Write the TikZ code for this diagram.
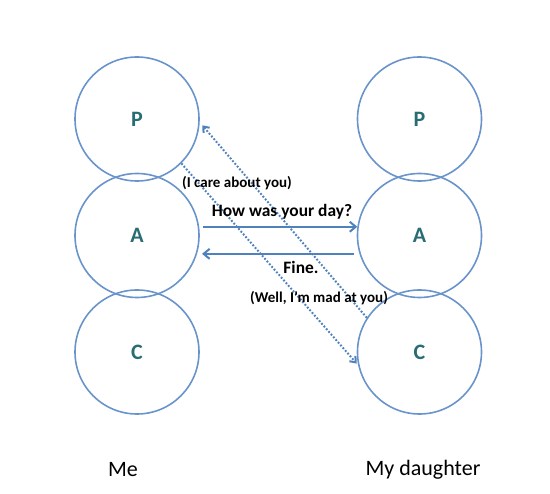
\documentclass[tikz,border=0pt]{standalone}
\usepackage{fontspec}
\setmainfont{Carlito}
\usetikzlibrary{arrows.meta}
\definecolor{circblue}{RGB}{104,148,203}
\definecolor{arrblue}{RGB}{79,129,189}
\definecolor{letterteal}{RGB}{40,108,116}
\tikzset{
  egostate/.style={circle,draw=circblue,line width=1.6pt,minimum size=124pt,inner sep=0pt,
    font=\fontsize{22}{24}\selectfont\bfseries,text=letterteal},
  msgarrow/.style={draw=arrblue,line width=2.4pt,-{Straight Barb[length=6pt,width=10pt,line width=2pt]}},
  hiddenarrow/.style={draw=arrblue,line width=2pt,dash pattern=on 1.8pt off 1.8pt,
    -{Straight Barb[length=5pt,width=8pt,line width=2pt]}},
  msgtext/.style={font=\fontsize{17.4}{19}\selectfont\bfseries,inner sep=0pt},
  subtext/.style={font=\fontsize{15}{17}\selectfont\bfseries,inner sep=0pt},
  persontext/.style={font=\fontsize{22}{24}\selectfont,inner sep=0pt}
}
\begin{document}
\begin{tikzpicture}[x=1pt,y=-1pt]
\useasboundingbox (0,0) rectangle (550,494);
\node[egostate] (lP) at (137,119) {P};
\node[egostate] (lA) at (137,235.5) {A};
\node[egostate] (lC) at (137,352) {C};
\node[egostate] (rP) at (419.5,119) {P};
\node[egostate] (rA) at (419.5,235.5) {A};
\node[egostate] (rC) at (419.5,352) {C};
\draw[msgarrow,shorten <=4pt] (lA.8) -- (rA.172);
\draw[msgarrow,shorten <=5pt,shorten >=5pt] (rA.197.4) -- (lA.-17.4);
\draw[hiddenarrow,shorten >=2pt] (lP.-45) -- (rC.192);
\draw[hiddenarrow,shorten >=4pt] (rC.147) -- (lP.-3);
\node[msgtext] (how) at (282,212) {How was your day?};
\node[msgtext] (fine) at (301,267) {Fine.};
\node[subtext] (care) at (237,183) {(I care about you)};
\node[subtext] (mad) at (319,298) {(Well, I’m mad at you)};
\node[persontext] (me) at (123,470) {Me};
\node[persontext] (daughter) at (423,470) {My daughter};
\end{tikzpicture}
\end{document}
